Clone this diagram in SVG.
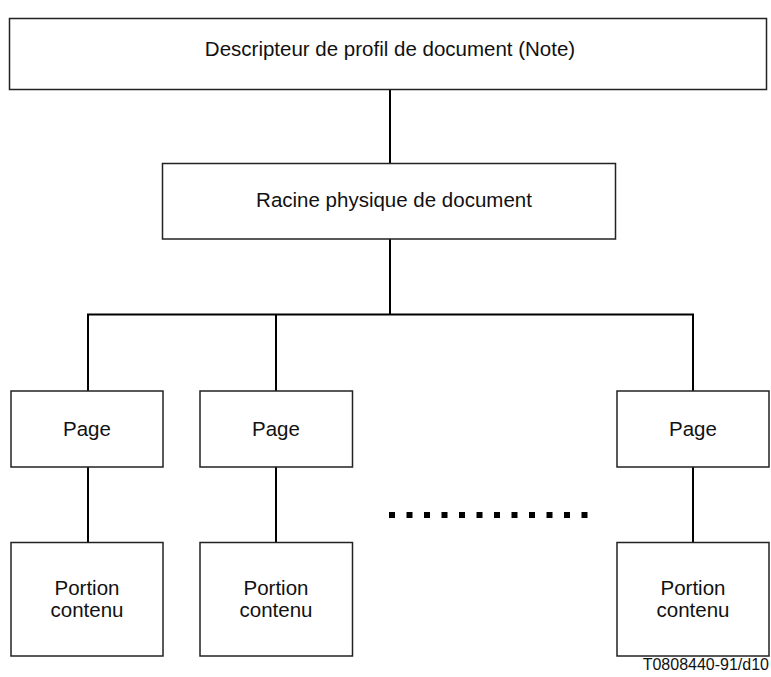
<svg xmlns="http://www.w3.org/2000/svg" width="771" height="677" viewBox="0 0 771 677">
<style>
.box{fill:#fff;stroke:#222;stroke-width:1.5}
.lbl{font-family:"Liberation Sans",Arial,sans-serif;font-size:20.5px;fill:#111;text-anchor:middle}
.con{stroke:#000;stroke-width:2;fill:none}
</style>
<rect width="771" height="677" fill="#fff"/>
<g id="connectors">
<line class="con" x1="390" y1="89" x2="390" y2="163"/>
<line class="con" x1="390" y1="239" x2="390" y2="314.5"/>
<polyline class="con" points="88,391 88,314.5 693,314.5 693,391"/>
<line class="con" x1="276" y1="314.5" x2="276" y2="391"/>
<line class="con" x1="88" y1="467" x2="88" y2="542"/>
<line class="con" x1="276" y1="467" x2="276" y2="542"/>
<line class="con" x1="693" y1="467" x2="693" y2="542"/>
<line x1="389" y1="515" x2="590" y2="515" stroke="#000" stroke-width="6" stroke-dasharray="6 11.5"/>
</g>
<g id="descripteur">
<rect class="box" x="9.5" y="18.5" width="757" height="71"/>
<text class="lbl" x="390" y="56">Descripteur de profil de document (Note)</text>
</g>
<g id="racine">
<rect class="box" x="162.5" y="163.5" width="453" height="75.5"/>
<text class="lbl" x="394" y="207">Racine physique de document</text>
</g>
<g id="page1">
<rect class="box" x="11" y="391" width="152" height="76"/>
<text class="lbl" x="87" y="436">Page</text>
</g>
<g id="page2">
<rect class="box" x="200" y="391" width="152.5" height="76"/>
<text class="lbl" x="276" y="436">Page</text>
</g>
<g id="page3">
<rect class="box" x="617" y="391" width="152" height="76"/>
<text class="lbl" x="693" y="436">Page</text>
</g>
<g id="portion1">
<rect class="box" x="11" y="542.5" width="152" height="113.5"/>
<text class="lbl" x="87" y="595">Portion</text>
<text class="lbl" x="87" y="617">contenu</text>
</g>
<g id="portion2">
<rect class="box" x="200" y="542.5" width="152.5" height="113.5"/>
<text class="lbl" x="276" y="595">Portion</text>
<text class="lbl" x="276" y="617">contenu</text>
</g>
<g id="portion3">
<rect class="box" x="617" y="542.5" width="152" height="113.5"/>
<text class="lbl" x="693" y="595">Portion</text>
<text class="lbl" x="693" y="617">contenu</text>
</g>
<text x="769" y="670" font-family="'Liberation Sans',Arial,sans-serif" font-size="16" fill="#111" text-anchor="end">T0808440-91/d10</text>
</svg>
